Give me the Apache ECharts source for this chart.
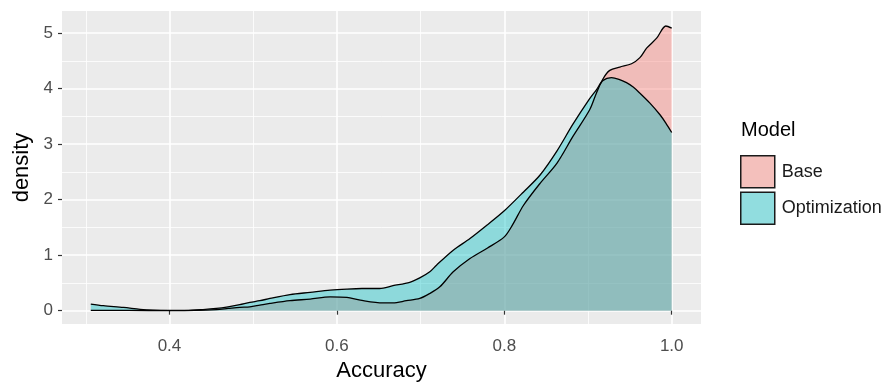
<!DOCTYPE html>
<html>
<head>
<meta charset="utf-8">
<script src="https://cdn.jsdelivr.net/npm/echarts@6/dist/echarts.min.js"></script>
<style>
html,body{margin:0;padding:0;background:#fff;}
#chart{width:891px;height:382px;}
</style>
</head>
<body>
<div id="chart"></div>
<script>
// Data
var seriesNames = ['Base', 'Optimization'];
var baseX = [0.306,0.35,0.40,0.43,0.456,0.47,0.484,0.496,0.508,0.52,0.544,0.568,0.592,0.612,0.628,0.655,0.667,0.683,0.699,0.711,0.723,0.739,0.759,0.78,0.80,0.81,0.823,0.843,0.863,0.882,0.902,0.910,0.918,0.926,0.938,0.952,0.962,0.970,0.982,0.993,1.0];
var baseY = [0.005,0.005,0.002,0.005,0.02,0.04,0.06,0.07,0.10,0.13,0.18,0.21,0.25,0.24,0.19,0.14,0.14,0.18,0.22,0.31,0.43,0.70,0.94,1.13,1.33,1.55,1.90,2.30,2.66,3.14,3.62,3.92,4.18,4.33,4.39,4.45,4.56,4.73,4.91,5.13,5.09];
var optX = [0.306,0.321,0.345,0.365,0.38,0.40,0.42,0.44,0.456,0.47,0.484,0.496,0.508,0.52,0.544,0.568,0.592,0.612,0.63,0.651,0.667,0.687,0.699,0.711,0.719,0.739,0.759,0.78,0.80,0.823,0.843,0.863,0.882,0.902,0.910,0.918,0.928,0.937,0.946,0.954,0.962,0.974,0.986,0.993,1.0];
var optY = [0.12,0.09,0.06,0.025,0.01,0.005,0.005,0.02,0.04,0.07,0.11,0.15,0.18,0.22,0.29,0.33,0.37,0.39,0.40,0.40,0.45,0.51,0.59,0.70,0.82,1.09,1.30,1.55,1.80,2.14,2.45,2.88,3.36,3.82,3.98,4.15,4.20,4.17,4.11,4.03,3.92,3.74,3.53,3.38,3.21];
var xMajorTicks = [0.4, 0.6, 0.8, 1.0];
var xMinorTicks = [0.3, 0.5, 0.7, 0.9];
var yMajorTicks = [0, 1, 2, 3, 4, 5];
var yMinorTicks = [0.5, 1.5, 2.5, 3.5, 4.5];

function pairs(xs, ys) { return xs.map(function (x, i) { return [x, ys[i]]; }); }

var FONT = '"Liberation Sans", Arial, sans-serif';
var X_MIN = 0.2716, X_MAX = 1.035, Y_MIN = -0.24, Y_MAX = 5.40;

var chart = echarts.init(document.getElementById('chart'), null, {renderer: 'canvas'});
var option = {
  animation: false,
  backgroundColor: '#ffffff',
  textStyle: {fontFamily: FONT},
  title: {
    text: 'Model', left: 736, top: 115,
    textStyle: {fontFamily: FONT, fontSize: 20, fontWeight: 'normal', color: '#000000'}
  },
  legend: {
    orient: 'vertical', left: 735, top: 150,
    icon: 'rect', itemWidth: 34, itemHeight: 32, itemGap: 3,
    textStyle: {fontFamily: FONT, fontSize: 18, color: '#1a1a1a', padding: [2, 0, 0, 2]},
    data: [
      {name: seriesNames[0], itemStyle: {color: '#F4C0BC', borderColor: '#1a1a1a', borderWidth: 1.5}},
      {name: seriesNames[1], itemStyle: {color: '#91DDDF', borderColor: '#1a1a1a', borderWidth: 1.5}}
    ]
  },
  grid: {
    left: 62, top: 11, width: 639, height: 313,
    containLabel: false, outerBoundsMode: 'none',
    show: true, backgroundColor: '#EBEBEB', borderWidth: 0
  },
  xAxis: [
    {
      type: 'value', min: X_MIN, max: X_MAX,
      name: 'Accuracy', nameLocation: 'middle', nameGap: 36,
      nameTextStyle: {fontFamily: FONT, fontSize: 22, color: '#000000'},
      axisLine: {show: false},
      axisTick: {show: true, length: 4, customValues: xMajorTicks, lineStyle: {color: '#333333', width: 1.2}},
      axisLabel: {show: true, customValues: xMajorTicks, margin: 14, fontSize: 17, color: '#4D4D4D', fontFamily: FONT,
        formatter: function (v) { return v.toFixed(1); }},
      splitLine: {show: true, lineStyle: {color: '#ffffff', width: 1.6}},
      z: 1
    },
    {
      type: 'value', min: X_MIN, max: X_MAX, gridIndex: 0, position: 'bottom',
      axisLine: {show: false},
      axisTick: {show: false, customValues: xMinorTicks},
      axisLabel: {show: false, customValues: xMinorTicks},
      splitLine: {show: true, lineStyle: {color: '#ffffff', width: 0.8}},
      z: 0
    }
  ],
  yAxis: [
    {
      type: 'value', min: Y_MIN, max: Y_MAX,
      name: 'density', nameLocation: 'middle', nameGap: 22, nameRotate: 90,
      nameTextStyle: {fontFamily: FONT, fontSize: 22, color: '#000000'},
      axisLine: {show: false},
      axisTick: {show: true, length: 4, customValues: yMajorTicks, lineStyle: {color: '#333333', width: 1.2}},
      axisLabel: {show: true, customValues: yMajorTicks, margin: 9, fontSize: 17, color: '#4D4D4D', fontFamily: FONT},
      splitLine: {show: true, lineStyle: {color: '#ffffff', width: 1.6}},
      z: 1
    },
    {
      type: 'value', min: Y_MIN, max: Y_MAX, gridIndex: 0, position: 'left',
      axisLine: {show: false},
      axisTick: {show: false, customValues: yMinorTicks},
      axisLabel: {show: false, customValues: yMinorTicks},
      splitLine: {show: true, lineStyle: {color: '#ffffff', width: 0.8}},
      z: 0
    }
  ],
  series: [
    {
      name: seriesNames[0], type: 'line', xAxisIndex: 0, yAxisIndex: 0,
      data: pairs(baseX, baseY), smooth: 0.3, showSymbol: false, symbol: 'none',
      lineStyle: {color: '#000000', width: 1.3},
      itemStyle: {color: '#F4C0BC'},
      areaStyle: {color: 'rgba(248,118,109,0.4)', opacity: 1},
      z: 3
    },
    {
      name: seriesNames[1], type: 'line', xAxisIndex: 0, yAxisIndex: 0,
      data: pairs(optX, optY), smooth: 0.3, showSymbol: false, symbol: 'none',
      lineStyle: {color: '#000000', width: 1.3},
      itemStyle: {color: '#91DDDF'},
      areaStyle: {color: 'rgba(0,191,196,0.4)', opacity: 1},
      z: 3
    }
  ]
};
chart.setOption(option);
</script>
</body>
</html>
